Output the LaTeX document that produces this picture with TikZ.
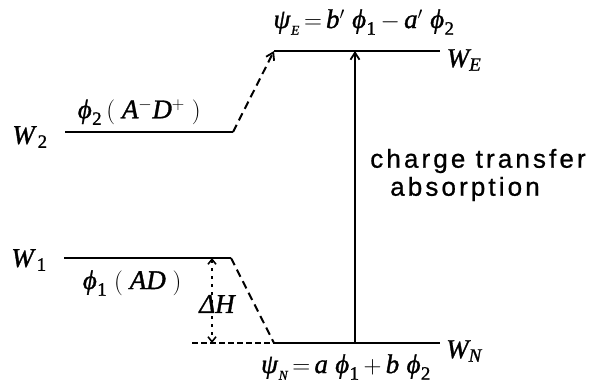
\documentclass[tikz,border=0pt]{standalone}
\usepackage{amsmath}
\usepackage{mathspec}
\setmathsfont(Digits,Latin,Greek)[FakeBold=1.2]{Liberation Serif}
\newfontfamily\ctfont[LetterSpace=12,FakeBold=0.8]{Liberation Sans}
\newfontfamily\lsf[FakeBold=1.2]{Liberation Serif}
\usetikzlibrary{arrows.meta}
\begin{document}
\begin{tikzpicture}[x=1pt,y=-1pt,
  level/.style={line width=2pt},
  dashlink/.style={line width=2pt,dash pattern=on 8pt off 5pt},
  lbl/.style={inner sep=0pt,font=\fontsize{27}{30}\selectfont},
  ctlbl/.style={inner sep=0pt,font=\fontsize{26}{30}\ctfont},
  tip/.style={-{Straight Barb[length=7pt,width=9pt,line width=1.8pt]}}]
\useasboundingbox (0,0) rectangle (590,384);
% level end points
\coordinate (e1) at (274,51);  \coordinate (e2) at (440,51);
\coordinate (w2a) at (65,132); \coordinate (w2b) at (233,132);
\coordinate (w1a) at (64,258); \coordinate (w1b) at (231,258);
\coordinate (n1) at (274,343); \coordinate (n2) at (440,343);
\coordinate (nd) at (192,343);
\coordinate (ab) at (355,343); \coordinate (at) at (355,51);
\coordinate (dh1) at (212,258); \coordinate (dh2) at (212,343);
% levels
\draw[level] (e1) -- (e2);
\draw[level] (w2a) -- (w2b);
\draw[level] (w1a) -- (w1b);
\draw[level] (n1) -- (n2);
\draw[line width=2pt,dash pattern=on 6pt off 3pt] (nd) -- (n1);
% links
\draw[dashlink,tip] (w2b) -- (e1);
\draw[dashlink] (w1b) -- (n1);
% absorption arrow
\draw[line width=2pt,tip] (ab) -- (at);
% Delta H
\draw[line width=2pt,dash pattern=on 3pt off 5pt,{Straight Barb[length=5pt,width=8pt,line width=1.6pt]}-{Straight Barb[length=5pt,width=8pt,line width=1.6pt]}] (dh1) -- (dh2);
% labels
\node[lbl] (lWE) at (464,60) {$W_E$};
\node[lbl] (lWN) at (464,351) {$W_N$};
\node[lbl] (lW2) at (30,137) {$W_{\,2}$};
\node[lbl] (lW1) at (29,260) {$W_{\,1}$};
\node[lbl] (lp2) at (139,112) {$\varphi_2\,(\;A^{-}D^{+}\;)$};
\node[lbl] (lp1) at (132,283) {$\varphi_1\;(\;AD\;)$};
\node[lbl] (lpsiE) at (364,22) {$\psi_{\scriptscriptstyle E}\,{=}\,b'\;\varphi_1\,{-}\,a'\;\varphi_2$};
\node[lbl] (lpsiN) at (346,367) {$\psi_{\scriptscriptstyle N}\,{=}\,a\;\varphi_1\,{+}\,b\;\varphi_2$};
\node[lbl] (ldH) at (217,304) {{\lsf\itshape Δ}$H$};
\node[ctlbl] (ct1) at (478,161) {charge transfer};
\node[ctlbl] (ct2) at (465,189) {absorption};
\end{tikzpicture}
\end{document}
